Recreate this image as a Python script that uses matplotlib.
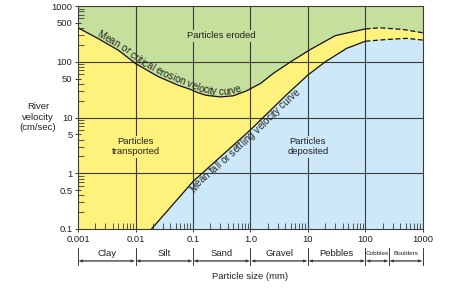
import numpy as np
import matplotlib
matplotlib.use("Agg")
import matplotlib.pyplot as plt
from matplotlib.transforms import blended_transform_factory, IdentityTransform
from matplotlib.ticker import FixedLocator, LogLocator, NullFormatter
from matplotlib.font_manager import FontProperties, findfont
from matplotlib.ft2font import FT2Font

plt.rcParams['font.family'] = ['Liberation Sans', 'DejaVu Sans']

# ---------------- data ----------------
erosion_x = [0.001, 0.0022, 0.005, 0.01, 0.025, 0.055, 0.09, 0.12, 0.17, 0.3,
             0.5, 0.85, 1.5, 2.5, 5, 11, 30, 100]
erosion_y = [407, 263, 162, 93, 54, 38, 32, 28, 25, 23.4,
             24.5, 30, 41, 62, 100, 166, 295, 389]
erosion_dash_x = [100, 180, 450, 1000]
erosion_dash_y = [389, 407, 380, 331]

settling_x = [0.019, 0.1, 1.0, 1.66, 4.3, 10, 20, 47, 100]
settling_y = [0.1, 0.71, 6.0, 10, 26, 58, 100, 174, 234]
settling_dash_x = [100, 234, 525, 1000]
settling_dash_y = [234, 251, 263, 245]

size_classes = ['Clay', 'Silt', 'Sand', 'Gravel', 'Pebbles', 'Cobbles', 'Boulders']
size_bounds = [0.001, 0.01, 0.1, 1, 10, 100, 256, 1000]

x_ticks = [0.001, 0.01, 0.1, 1, 10, 100, 1000]
x_tick_labels = ['0.001', '0.01', '0.1', '1.0', '10', '100', '1000']
y_ticks = [0.1, 0.5, 1, 5, 10, 50, 100, 500, 1000]
y_tick_labels = ['0.1', '0.5', '1', '5', '10', '50', '100', '500', '1000']
x_grid = [0.01, 0.1, 1, 10, 100]
y_grid = [1, 10, 100]

# ---------------- style ----------------
GREEN = '#C5DF9C'
YELLOW = '#FFF27C'
BLUE = '#CDE9F9'
GC = '#3a3a3a'
TC = '#222222'
FS = 6.8

fig = plt.figure(figsize=(4.63, 2.88), dpi=100)
ax = fig.add_axes([0.1685, 0.205, 0.745, 0.774])
ax.set_xscale('log')
ax.set_yscale('log')
ax.set_xlim(0.001, 1000)
ax.set_ylim(0.1, 1000)

ux = erosion_x + erosion_dash_x[1:]
uy = erosion_y + erosion_dash_y[1:]
lx = settling_x + settling_dash_x[1:]
ly = settling_y + settling_dash_y[1:]

ax.fill_between(ux, uy, 1000, color=GREEN, lw=0, zorder=1)
ax.fill_between(ux, 0.1, uy, color=YELLOW, lw=0, zorder=1)
ax.fill_between(lx, 0.1, ly, color=BLUE, lw=0, zorder=1.1)

for v in x_grid:
    ax.axvline(v, color=GC, lw=0.8, zorder=2)
for h in y_grid:
    ax.axhline(h, color=GC, lw=0.8, zorder=2)

ax.plot(erosion_x, erosion_y, color='#111111', lw=0.9, zorder=3)
ax.plot(erosion_dash_x, erosion_dash_y, color='#111111', lw=0.9, ls=(0, (4, 2)), zorder=3)
ax.plot(settling_x, settling_y, color='#111111', lw=0.9, zorder=3)
ax.plot(settling_dash_x, settling_dash_y, color='#111111', lw=0.9, ls=(0, (4, 2)), zorder=3)

# ticks
ax.xaxis.set_major_locator(FixedLocator(x_ticks))
ax.set_xticklabels(x_tick_labels)
ax.yaxis.set_major_locator(FixedLocator(y_ticks))
ax.set_yticklabels(y_tick_labels)
ax.xaxis.set_minor_locator(LogLocator(base=10, subs=[2, 3, 4, 5, 6, 7, 8, 9]))
ax.yaxis.set_minor_locator(LogLocator(base=10, subs=[2, 3, 4, 6, 7, 8, 9]))
ax.xaxis.set_minor_formatter(NullFormatter())
ax.yaxis.set_minor_formatter(NullFormatter())
ax.tick_params(which='major', direction='inout', length=5, width=0.7, color=GC,
               labelsize=FS, labelcolor=TC, pad=1.5)
ax.tick_params(which='minor', direction='in', length=4, width=0.6, color=GC)
for s in ax.spines.values():
    s.set_color(GC)
    s.set_linewidth(0.8)
    s.set_zorder(5)

# region labels
ax.text(0.307, 295, 'Particles eroded', ha='center', va='center', fontsize=FS, color=TC,
        zorder=4, bbox=dict(facecolor=GREEN, edgecolor='none', pad=1.0))
ax.text(0.01, 3.0, 'Particles\ntransported', ha='center', va='center', fontsize=FS, color=TC,
        zorder=4, linespacing=1.15, bbox=dict(facecolor=YELLOW, edgecolor='none', pad=1.0))
ax.text(10, 3.0, 'Particles\ndeposited', ha='center', va='center', fontsize=FS, color=TC,
        zorder=4, linespacing=1.15, bbox=dict(facecolor=BLUE, edgecolor='none', pad=1.0))

# text along a curve
def text_along(xs, ys, text, start_x, offset, size):
    pts = ax.transData.transform(np.column_stack([xs, ys]))
    seg = np.diff(pts, axis=0)
    cum = np.concatenate([[0], np.cumsum(np.hypot(seg[:, 0], seg[:, 1]))])
    sx = ax.transData.transform((start_x, 1))[0]
    s0 = np.interp(sx, pts[:, 0], cum)
    prop = FontProperties(family='Liberation Sans', size=size)
    font = FT2Font(findfont(prop))
    font.set_size(size, fig.dpi)
    adv = []
    for ch in text:
        g = font.load_char(ord(ch))
        adv.append(g.linearHoriAdvance / 65536.0)
    pos = 0.0
    for ch, a in zip(text, adv):
        s = s0 + pos + a / 2
        pos += a
        if ch == ' ':
            continue
        x = np.interp(s, cum, pts[:, 0])
        y = np.interp(s, cum, pts[:, 1])
        x1 = np.interp(s + 8, cum, pts[:, 0]); y1 = np.interp(s + 8, cum, pts[:, 1])
        x0 = np.interp(s - 8, cum, pts[:, 0]); y0 = np.interp(s - 8, cum, pts[:, 1])
        dx, dy = x1 - x0, y1 - y0
        n = np.hypot(dx, dy)
        nx, ny = -dy / n, dx / n
        ang = np.degrees(np.arctan2(dy, dx))
        fig.text(x + nx * offset, y + ny * offset, ch, transform=IdentityTransform(),
                 rotation=ang, rotation_mode='anchor', ha='center', va='center',
                 fontproperties=prop, color=TC, zorder=6)

text_along(erosion_x, erosion_y, 'Mean or critical erosion velocity curve', 0.0020, 4.8, 7.0)
text_along(settling_x, settling_y, 'Mean fall or settling velocity curve', 0.082, -5.0, 7.0)

# size classes brackets
trans = blended_transform_factory(ax.transData, ax.transAxes)
y_arrow = -0.1435
for b in size_bounds:
    ax.plot([b, b], [-0.085, -0.160], transform=trans, color=GC, lw=0.7, clip_on=False)
for i, name in enumerate(size_classes):
    b0, b1 = size_bounds[i], size_bounds[i + 1]
    ax.annotate('', xy=(b1, y_arrow), xytext=(b0, y_arrow), xycoords=trans, textcoords=trans,
                arrowprops=dict(arrowstyle='-|>', color=GC, lw=0.6, mutation_scale=4,
                                shrinkA=1, shrinkB=1), annotation_clip=False)
    ax.annotate('', xy=(b0, y_arrow), xytext=(b1, y_arrow), xycoords=trans, textcoords=trans,
                arrowprops=dict(arrowstyle='-|>', color=GC, lw=0.6, mutation_scale=4,
                                shrinkA=1, shrinkB=1), annotation_clip=False)
    fs = 4.6 if name in ('Cobbles', 'Boulders') else FS
    ax.text(np.sqrt(b0 * b1), -0.108, name, transform=trans, ha='center', va='center',
            fontsize=fs, color=TC, clip_on=False)

ax.text(1, -0.212, 'Particle size (mm)', transform=trans, ha='center', va='center',
        fontsize=FS, color=TC, clip_on=False)

fig.text(38 / 463, 1 - 117 / 288, 'River\nvelocity\n(cm/sec)', ha='center', va='center',
         fontsize=FS, color=TC, linespacing=1.2)

fig.savefig('out.png', dpi=100)
